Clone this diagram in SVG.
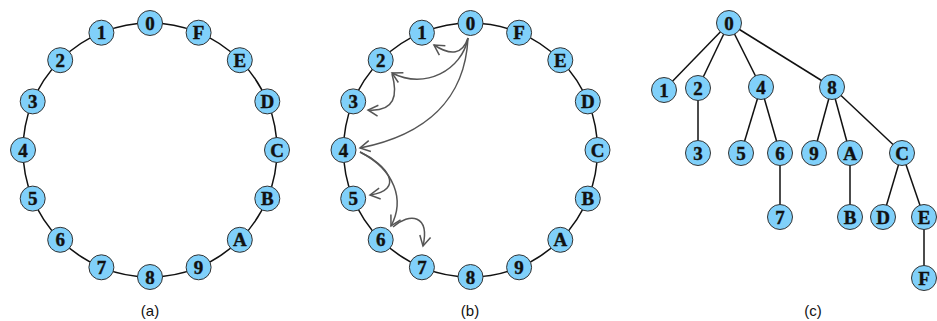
<svg xmlns="http://www.w3.org/2000/svg" width="937" height="321" viewBox="0 0 937 321">
<style>
.n circle{fill:#80d0fa;stroke:#333;stroke-width:1}
.n text{font-family:"Liberation Serif","Times New Roman",serif;font-weight:bold;font-size:19px;text-anchor:middle;fill:#111;stroke:#111;stroke-width:0.4}
.ring{fill:none;stroke:#111;stroke-width:1.5}
.e{stroke:#111;stroke-width:1.5;fill:none}
.a{stroke:#555;stroke-width:1.5;fill:none;marker-end:url(#arr)}
.cap{font-family:"Liberation Sans",Arial,sans-serif;font-size:15px;text-anchor:middle;fill:#111}
</style>
<defs>
<marker id="arr" viewBox="-12 -7 14 14" refX="0" refY="0" markerWidth="14" markerHeight="14" orient="auto" markerUnits="userSpaceOnUse">
<path d="M-10,-5.5 L0,0 L-10,5.5" fill="none" stroke="#555" stroke-width="1.5"/>
</marker>
</defs>
<g id="connectors">
<circle class="ring" cx="150" cy="150" r="127"/>
<circle class="ring" cx="470.5" cy="150" r="127"/>
<path class="a" d="M468,38 Q460,62 434,45"/>
<path class="a" d="M468,38 C462,70 425,90 392,73"/>
<path class="a" d="M392,74 C398,95 395,112 368,110"/>
<path class="a" d="M468,38 C465,100 425,135 360,148"/>
<path class="a" d="M360,152 C388,165 405,190 370,195"/>
<path class="a" d="M360,152 C395,170 405,200 391,226"/>
<path class="a" d="M393,227 C410,212 430,215 423,246"/>
<line class="e" x1="729" y1="23" x2="664" y2="90"/>
<line class="e" x1="729" y1="23" x2="698" y2="88"/>
<line class="e" x1="729" y1="23" x2="761" y2="87"/>
<line class="e" x1="729" y1="23" x2="832" y2="87"/>
<line class="e" x1="698" y1="88" x2="698" y2="153"/>
<line class="e" x1="761" y1="87" x2="741" y2="153"/>
<line class="e" x1="761" y1="87" x2="780" y2="153"/>
<line class="e" x1="780" y1="153" x2="780" y2="217"/>
<line class="e" x1="832" y1="87" x2="814" y2="153"/>
<line class="e" x1="832" y1="87" x2="850" y2="153"/>
<line class="e" x1="832" y1="87" x2="902" y2="153"/>
<line class="e" x1="850" y1="153" x2="850" y2="217"/>
<line class="e" x1="902" y1="153" x2="883" y2="217"/>
<line class="e" x1="902" y1="153" x2="924" y2="217"/>
<line class="e" x1="924" y1="217" x2="924" y2="278"/>
</g>
<!-- panel a -->
<g id="a-0" class="n"><circle cx="150" cy="23" r="12.5"/><text x="150" y="29.5">0</text></g>
<g id="a-1" class="n"><circle cx="101.4" cy="32.7" r="12.5"/><text x="101.4" y="39.2">1</text></g>
<g id="a-2" class="n"><circle cx="60.2" cy="60.2" r="12.5"/><text x="60.2" y="66.7">2</text></g>
<g id="a-3" class="n"><circle cx="32.7" cy="101.4" r="12.5"/><text x="32.7" y="107.9">3</text></g>
<g id="a-4" class="n"><circle cx="23" cy="150" r="12.5"/><text x="23" y="156.5">4</text></g>
<g id="a-5" class="n"><circle cx="32.7" cy="198.6" r="12.5"/><text x="32.7" y="205.1">5</text></g>
<g id="a-6" class="n"><circle cx="60.2" cy="239.8" r="12.5"/><text x="60.2" y="246.3">6</text></g>
<g id="a-7" class="n"><circle cx="101.4" cy="267.3" r="12.5"/><text x="101.4" y="273.8">7</text></g>
<g id="a-8" class="n"><circle cx="150" cy="277" r="12.5"/><text x="150" y="283.5">8</text></g>
<g id="a-9" class="n"><circle cx="198.6" cy="267.3" r="12.5"/><text x="198.6" y="273.8">9</text></g>
<g id="a-A" class="n"><circle cx="239.8" cy="239.8" r="12.5"/><text x="239.8" y="246.3">A</text></g>
<g id="a-B" class="n"><circle cx="267.3" cy="198.6" r="12.5"/><text x="267.3" y="205.1">B</text></g>
<g id="a-C" class="n"><circle cx="277" cy="150" r="12.5"/><text x="277" y="156.5">C</text></g>
<g id="a-D" class="n"><circle cx="267.3" cy="101.4" r="12.5"/><text x="267.3" y="107.9">D</text></g>
<g id="a-E" class="n"><circle cx="239.8" cy="60.2" r="12.5"/><text x="239.8" y="66.7">E</text></g>
<g id="a-F" class="n"><circle cx="198.6" cy="32.7" r="12.5"/><text x="198.6" y="39.2">F</text></g>
<!-- panel b -->
<g id="b-0" class="n"><circle cx="470.5" cy="23" r="12.5"/><text x="470.5" y="29.5">0</text></g>
<g id="b-1" class="n"><circle cx="421.9" cy="32.7" r="12.5"/><text x="421.9" y="39.2">1</text></g>
<g id="b-2" class="n"><circle cx="380.7" cy="60.2" r="12.5"/><text x="380.7" y="66.7">2</text></g>
<g id="b-3" class="n"><circle cx="353.2" cy="101.4" r="12.5"/><text x="353.2" y="107.9">3</text></g>
<g id="b-4" class="n"><circle cx="343.5" cy="150" r="12.5"/><text x="343.5" y="156.5">4</text></g>
<g id="b-5" class="n"><circle cx="353.2" cy="198.6" r="12.5"/><text x="353.2" y="205.1">5</text></g>
<g id="b-6" class="n"><circle cx="380.7" cy="239.8" r="12.5"/><text x="380.7" y="246.3">6</text></g>
<g id="b-7" class="n"><circle cx="421.9" cy="267.3" r="12.5"/><text x="421.9" y="273.8">7</text></g>
<g id="b-8" class="n"><circle cx="470.5" cy="277" r="12.5"/><text x="470.5" y="283.5">8</text></g>
<g id="b-9" class="n"><circle cx="519.1" cy="267.3" r="12.5"/><text x="519.1" y="273.8">9</text></g>
<g id="b-A" class="n"><circle cx="560.3" cy="239.8" r="12.5"/><text x="560.3" y="246.3">A</text></g>
<g id="b-B" class="n"><circle cx="587.8" cy="198.6" r="12.5"/><text x="587.8" y="205.1">B</text></g>
<g id="b-C" class="n"><circle cx="597.5" cy="150" r="12.5"/><text x="597.5" y="156.5">C</text></g>
<g id="b-D" class="n"><circle cx="587.8" cy="101.4" r="12.5"/><text x="587.8" y="107.9">D</text></g>
<g id="b-E" class="n"><circle cx="560.3" cy="60.2" r="12.5"/><text x="560.3" y="66.7">E</text></g>
<g id="b-F" class="n"><circle cx="519.1" cy="32.7" r="12.5"/><text x="519.1" y="39.2">F</text></g>
<!-- panel c -->
<g id="c-0" class="n"><circle cx="729" cy="23" r="12.5"/><text x="729" y="29.5">0</text></g>
<g id="c-1" class="n"><circle cx="664" cy="90" r="12.5"/><text x="664" y="96.5">1</text></g>
<g id="c-2" class="n"><circle cx="698" cy="88" r="12.5"/><text x="698" y="94.5">2</text></g>
<g id="c-4" class="n"><circle cx="761" cy="87" r="12.5"/><text x="761" y="93.5">4</text></g>
<g id="c-8" class="n"><circle cx="832" cy="87" r="12.5"/><text x="832" y="93.5">8</text></g>
<g id="c-3" class="n"><circle cx="698" cy="153" r="12.5"/><text x="698" y="159.5">3</text></g>
<g id="c-5" class="n"><circle cx="741" cy="153" r="12.5"/><text x="741" y="159.5">5</text></g>
<g id="c-6" class="n"><circle cx="780" cy="153" r="12.5"/><text x="780" y="159.5">6</text></g>
<g id="c-9" class="n"><circle cx="814" cy="153" r="12.5"/><text x="814" y="159.5">9</text></g>
<g id="c-A" class="n"><circle cx="850" cy="153" r="12.5"/><text x="850" y="159.5">A</text></g>
<g id="c-C" class="n"><circle cx="902" cy="153" r="12.5"/><text x="902" y="159.5">C</text></g>
<g id="c-7" class="n"><circle cx="780" cy="217" r="12.5"/><text x="780" y="223.5">7</text></g>
<g id="c-B" class="n"><circle cx="850" cy="217" r="12.5"/><text x="850" y="223.5">B</text></g>
<g id="c-D" class="n"><circle cx="883" cy="217" r="12.5"/><text x="883" y="223.5">D</text></g>
<g id="c-E" class="n"><circle cx="924" cy="217" r="12.5"/><text x="924" y="223.5">E</text></g>
<g id="c-F" class="n"><circle cx="924" cy="278" r="12.5"/><text x="924" y="284.5">F</text></g>
<text class="cap" x="150" y="316">(a)</text>
<text class="cap" x="470" y="316">(b)</text>
<text class="cap" x="813" y="316">(c)</text>
</svg>
